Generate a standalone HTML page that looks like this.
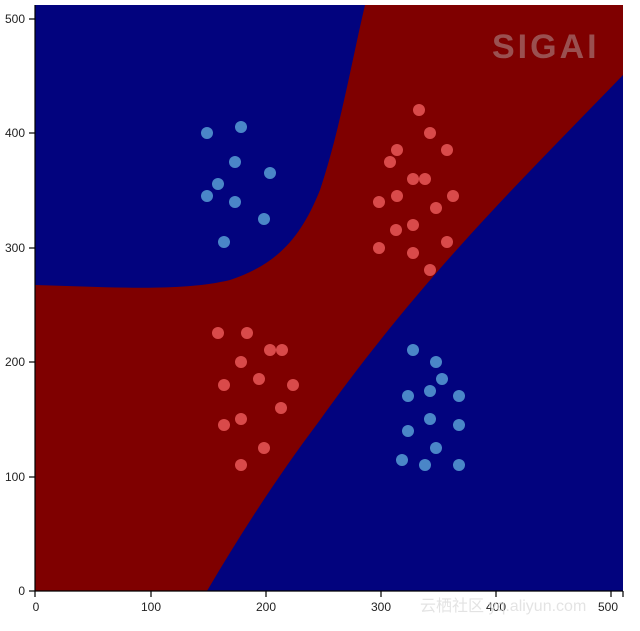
<!DOCTYPE html>
<html><head><style>
body{margin:0;background:#fff;width:640px;height:626px;overflow:hidden;font-family:"Liberation Sans",sans-serif}
</style></head><body>
<svg width="640" height="626" viewBox="0 0 640 626">
<rect x="35" y="5" width="588" height="586" fill="#7f0000"/>
<path d="M35,5 L365,5 C352,60 340,130 320,190 C300,240 275,265 230,280 C180,292 110,287 35,285 Z" fill="#02037e"/>
<path d="M207,591 C240,535 275,480 320,420 C370,350 420,290 470,235 C520,180 570,130 623,75 L623,591 Z" fill="#02037e"/>
<g fill="#d94a4a">
<circle cx="419" cy="110" r="6"/><circle cx="430" cy="133" r="6"/><circle cx="397" cy="150" r="6"/><circle cx="447" cy="150" r="6"/><circle cx="390" cy="162" r="6"/><circle cx="413" cy="179" r="6"/><circle cx="425" cy="179" r="6"/><circle cx="379" cy="202" r="6"/><circle cx="397" cy="196" r="6"/><circle cx="436" cy="208" r="6"/><circle cx="453" cy="196" r="6"/><circle cx="396" cy="230" r="6"/><circle cx="413" cy="225" r="6"/><circle cx="447" cy="242" r="6"/><circle cx="379" cy="248" r="6"/><circle cx="413" cy="253" r="6"/><circle cx="430" cy="270" r="6"/>
<circle cx="218" cy="333" r="6"/><circle cx="247" cy="333" r="6"/><circle cx="241" cy="362" r="6"/><circle cx="270" cy="350" r="6"/><circle cx="282" cy="350" r="6"/><circle cx="224" cy="385" r="6"/><circle cx="259" cy="379" r="6"/><circle cx="293" cy="385" r="6"/><circle cx="241" cy="419" r="6"/><circle cx="224" cy="425" r="6"/><circle cx="281" cy="408" r="6"/><circle cx="264" cy="448" r="6"/><circle cx="241" cy="465" r="6"/>
</g>
<g fill="#4a86c8">
<circle cx="413" cy="350" r="6"/><circle cx="436" cy="362" r="6"/><circle cx="442" cy="379" r="6"/><circle cx="430" cy="391" r="6"/><circle cx="408" cy="396" r="6"/><circle cx="459" cy="396" r="6"/><circle cx="430" cy="419" r="6"/><circle cx="459" cy="425" r="6"/><circle cx="408" cy="431" r="6"/><circle cx="436" cy="448" r="6"/><circle cx="402" cy="460" r="6"/><circle cx="425" cy="465" r="6"/><circle cx="459" cy="465" r="6"/>
<circle cx="207" cy="133" r="6"/><circle cx="241" cy="127" r="6"/><circle cx="235" cy="162" r="6"/><circle cx="218" cy="184" r="6"/><circle cx="270" cy="173" r="6"/><circle cx="207" cy="196" r="6"/><circle cx="235" cy="202" r="6"/><circle cx="264" cy="219" r="6"/><circle cx="224" cy="242" r="6"/>
</g>
<text x="492" y="58" font-size="34" font-weight="bold" fill="#9a5050" letter-spacing="3">SIGAI</text>
<g stroke="#000" stroke-width="1.2">
<line x1="35" y1="5" x2="35" y2="591"/><line x1="35" y1="591" x2="623" y2="591"/>
<line x1="29" y1="591" x2="35" y2="591"/><line x1="29" y1="477" x2="35" y2="477"/><line x1="29" y1="362" x2="35" y2="362"/><line x1="29" y1="248" x2="35" y2="248"/><line x1="29" y1="133" x2="35" y2="133"/><line x1="29" y1="19" x2="35" y2="19"/>
<line x1="35" y1="591" x2="35" y2="597"/><line x1="151" y1="591" x2="151" y2="597"/><line x1="266" y1="591" x2="266" y2="597"/><line x1="381" y1="591" x2="381" y2="597"/><line x1="496" y1="591" x2="496" y2="597"/><line x1="611" y1="591" x2="611" y2="597"/><line x1="623" y1="591" x2="623" y2="597"/>
</g>
<g font-size="12" fill="#222" text-anchor="end">
<text x="25" y="595">0</text><text x="25" y="481">100</text><text x="25" y="366">200</text><text x="25" y="252">300</text><text x="25" y="137">400</text><text x="25" y="23">500</text>
</g>
<g font-size="12" fill="#222" text-anchor="middle">
<text x="36" y="611">0</text><text x="151" y="611">100</text><text x="266" y="611">200</text><text x="381" y="611">300</text><text x="496" y="611">400</text><text x="608" y="611">500</text>
</g>
<text x="420" y="611" font-size="16" fill="#ddd" opacity="0.8">云栖社区 yq.aliyun.com</text>
</svg>
</body></html>
